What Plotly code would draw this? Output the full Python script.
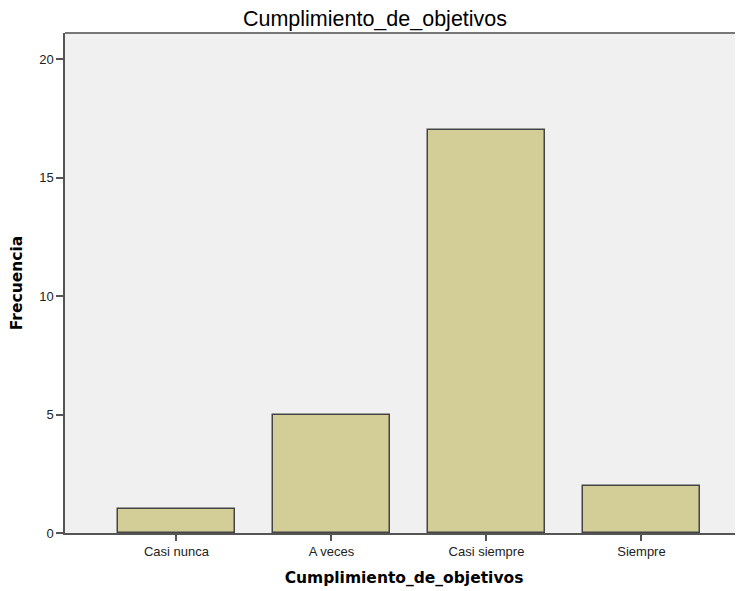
import plotly.graph_objects as go

categories = ["Casi nunca", "A veces", "Casi siempre", "Siempre"]
frecuencia = [1, 5, 17, 2]
y_ticks = [0, 5, 10, 15, 20]

# The page adds an 8px body margin, so the figure is drawn 8px smaller
W, H = 735, 583

fig = go.Figure()
fig.add_trace(go.Bar(
    x=list(range(len(categories))), y=frecuencia,
    width=0.755,
    marker=dict(color="#D3CE97", line=dict(color="#444444", width=1.5)),
))

fig.update_layout(
    width=W, height=H,
    margin=dict(l=57, r=0, t=25, b=58),
    paper_bgcolor="white", plot_bgcolor="#F0F0F0",
    showlegend=False,
    font=dict(family="Liberation Sans, Arial, sans-serif", color="#222222"),
    title=dict(text="Cumplimiento_de_objetivos", x=367 / W, xref="container",
               xanchor="center", y=1 - 10 / H, yanchor="middle",
               font=dict(family="Liberation Sans, Arial, sans-serif", size=21.5, color="#000000")),
    bargap=0,
)
fig.update_xaxes(
    tickmode="array", tickvals=list(range(len(categories))), ticktext=categories,
    range=[-0.719, 3.655],
    showgrid=False, zeroline=False,
    showline=True, linecolor="#555555", linewidth=1.5,
    ticks="outside", ticklen=6, tickcolor="#555555", tickwidth=1.5,
    tickfont=dict(size=13, color="#222222"),
    title=dict(text="<b>Cumplimiento_de_objetivos</b>",
               font=dict(family="DejaVu Sans, sans-serif", size=15.5, color="#000000"), standoff=14),
)
fig.update_yaxes(
    tickmode="array", tickvals=y_ticks, ticktext=[str(v) for v in y_ticks],
    range=[0, 21.1],
    showgrid=False, zeroline=False,
    showline=True, linecolor="#555555", linewidth=1.5,
    ticks="outside", ticklen=7, tickcolor="#555555", tickwidth=1.5,
    tickfont=dict(size=13, color="#222222"),
    title=dict(text="<b>Frecuencia</b>",
               font=dict(family="DejaVu Sans, sans-serif", size=15.5, color="#000000"), standoff=18),
)
# top border of the plot area
fig.add_shape(type="line", xref="paper", yref="paper", x0=0, x1=1, y0=1, y1=1,
              line=dict(color="#777777", width=2))

fig.write_html("out.html")
